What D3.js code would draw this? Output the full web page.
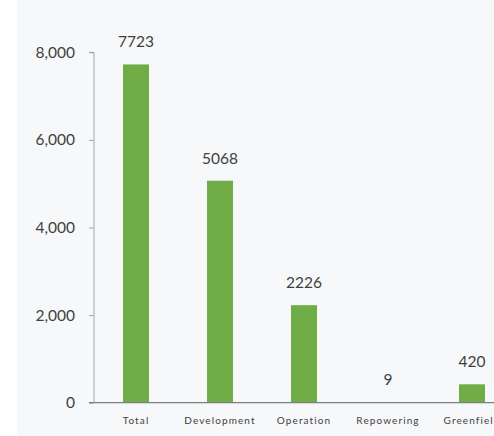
<!DOCTYPE html>
<html><head><meta charset="utf-8">
<script src="https://cdn.jsdelivr.net/npm/d3@7"></script>
<style>
html,body{margin:0;padding:0;background:#fff;}
svg{display:block;}
</style></head>
<body>
<script>
const categories = ["Total","Development","Operation","Repowering","Greenfield"];
const values = [7723,5068,2226,9,420];
const yTicks = [0,2000,4000,6000,8000];

const W = 494, H = 436;
const svg = d3.select("body").append("svg").attr("width",W).attr("height",H);
svg.append("rect").attr("x",17).attr("y",0).attr("width",W-17).attr("height",H).attr("fill","#f7f8fa");

const x0 = 94, y0 = 402.7, yTop = 52.3;
const x = d3.scaleBand().domain(categories).range([x0, x0 + 84*categories.length]).paddingInner(0.69).paddingOuter(0.345);
const y = d3.scaleLinear().domain([0,8000]).range([y0, yTop]);

// y axis
const yAxis = d3.axisLeft(y).tickValues(yTicks).tickSize(5).tickPadding(14).tickFormat(d3.format(","));
const gy = svg.append("g").attr("transform",`translate(${x0},0)`).call(yAxis);
gy.select(".domain").attr("stroke","#a6a6a6").attr("d",`M-5,${yTop}H0V${y0}`);
gy.selectAll(".tick line").attr("stroke","#a6a6a6");
gy.selectAll(".tick text").attr("fill","#404040").style("font-family","Lato, 'Open Sans', sans-serif").style("font-size","15.5px");

// bars
svg.append("g").selectAll("rect").data(categories).join("rect")
  .attr("x",d=>x(d)).attr("width",x.bandwidth())
  .attr("y",(d,i)=>y(values[i])).attr("height",(d,i)=>y0-y(values[i]))
  .attr("fill","#70ad47");

// x axis
const xAxis = d3.axisBottom(x).tickSize(0).tickPadding(14);
const gx = svg.append("g").attr("transform",`translate(0,${y0})`).call(xAxis);
gx.select(".domain").attr("stroke","#7f7f7f").attr("stroke-width",1.3).attr("d",`M${x0-5},0H${W}`);
gx.selectAll(".tick text").attr("fill","#404040").style("font-family","Lato, 'Open Sans', sans-serif").style("font-size","10px").style("letter-spacing","1.1px");

// value labels
svg.append("g").selectAll("text").data(categories).join("text")
  .attr("x",d=>x(d)+x.bandwidth()/2).attr("y",(d,i)=>y(values[i])-17)
  .attr("text-anchor","middle").attr("fill","#404040")
  .style("font-family","Lato, 'Open Sans', sans-serif").style("font-size","15.5px")
  .text((d,i)=>values[i]);
</script>
</body></html>
